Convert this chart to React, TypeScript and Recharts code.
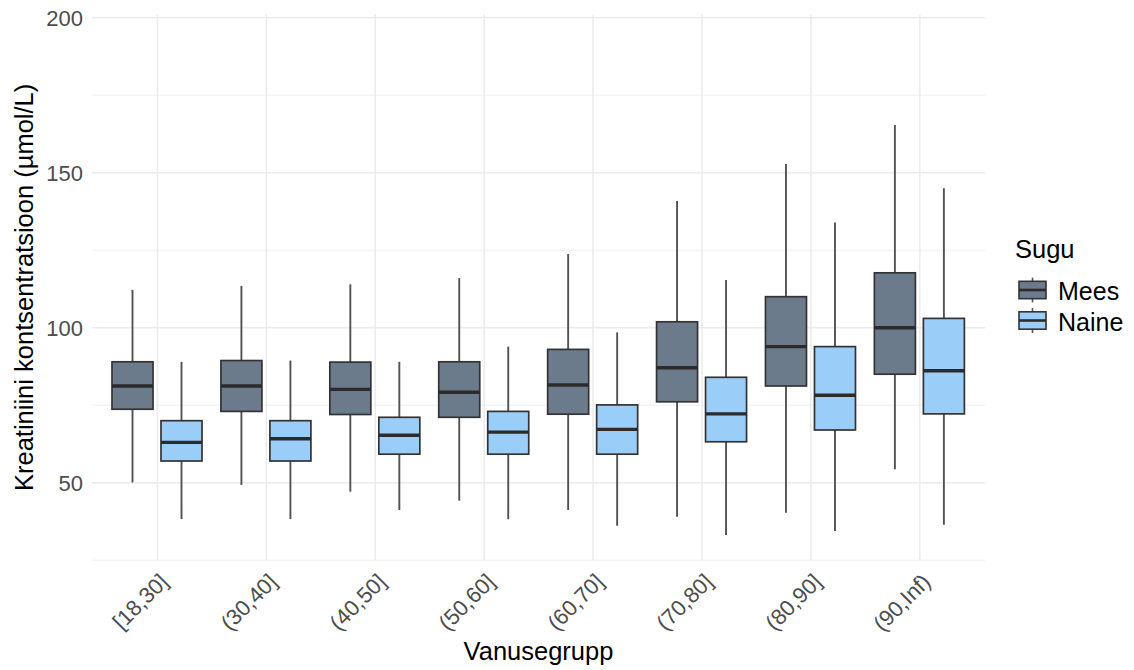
import { ComposedChart, Bar, XAxis, YAxis, CartesianGrid } from 'recharts'

// Age groups and five-number summaries (whisker low, Q1, median, Q3, whisker high)
const ageGroups = ['[18,30]', '(30,40]', '(40,50]', '(50,60]', '(60,70]', '(70,80]', '(80,90]', '(90,Inf)']

const meesLow = [50.1, 49.3, 47.1, 44.2, 41.2, 39.0, 40.3, 54.3]
const meesQ1 = [73.7, 73.0, 72.0, 71.1, 72.1, 76.1, 81.2, 85.0]
const meesMedian = [81.2, 81.2, 80.1, 79.2, 81.5, 87.1, 93.9, 100.0]
const meesQ3 = [89.0, 89.4, 88.9, 89.0, 93.0, 101.9, 110.0, 117.7]
const meesHigh = [112.2, 113.5, 114.0, 116.0, 123.8, 140.9, 152.8, 165.4]

const naineLow = [38.3, 38.3, 41.2, 38.2, 36.1, 33.1, 34.4, 36.4]
const naineQ1 = [57.0, 57.0, 59.2, 59.2, 59.2, 63.2, 67.0, 72.2]
const naineMedian = [63.0, 64.2, 65.3, 66.3, 67.2, 72.2, 78.2, 86.1]
const naineQ3 = [70.0, 70.0, 71.1, 73.0, 75.1, 84.0, 93.9, 103.0]
const naineHigh = [89.0, 89.4, 89.0, 93.9, 98.5, 115.4, 133.9, 145.0]

const yTicks = [50, 100, 150, 200]
const yMinor = [25, 75, 125, 175]

const MEES_FILL = '#6c7b8c'
const NAINE_FILL = '#9acef8'
const FONT = '"Liberation Sans", Arial, Helvetica, sans-serif'

const data = ageGroups.map((group, i) => ({
  group,
  mees: { low: meesLow[i], q1: meesQ1[i], median: meesMedian[i], q3: meesQ3[i], high: meesHigh[i] },
  naine: { low: naineLow[i], q1: naineQ1[i], median: naineMedian[i], q3: naineQ3[i], high: naineHigh[i] },
}))

type Stats = { low: number; q1: number; median: number; q3: number; high: number }

// Bar spans low..high; box parts are placed by interpolating inside that span
function boxShape(key: 'mees' | 'naine', fill: string) {
  return (props: any) => {
    const { x, y, width, height, payload } = props
    const s: Stats = payload[key]
    const py = (v: number) => y + ((s.high - v) / (s.high - s.low)) * height
    const cx = x + width / 2
    return (
      <g>
        <line x1={cx} x2={cx} y1={py(s.high)} y2={py(s.low)} stroke="#525252" strokeWidth={1.9} />
        <rect
          x={x}
          y={py(s.q3)}
          width={width}
          height={py(s.q1) - py(s.q3)}
          fill={fill}
          stroke="#333333"
          strokeWidth={1.7}
        />
        <line x1={x} x2={x + width} y1={py(s.median)} y2={py(s.median)} stroke="#2b2b2b" strokeWidth={3.4} />
      </g>
    )
  }
}

function AgeTick(props: any) {
  const { x, y, payload } = props
  const ax = x + 12
  const ay = y + 15
  return (
    <text
      x={ax}
      y={ay}
      textAnchor="end"
      transform={`rotate(-45, ${ax}, ${ay})`}
      fill="#4d4d4d"
      fontSize={22}
      fontFamily={FONT}
    >
      {payload.value}
    </text>
  )
}

function LegendKey({ top, fill }: { top: number; fill: string }) {
  const left = 1019
  const w = 27
  const h = 31
  const cx = left + w / 2
  return (
    <g>
      <line x1={cx} x2={cx} y1={top + h * 0.1} y2={top + h * 0.9} stroke="#525252" strokeWidth={1.6} />
      <rect x={left} y={top + h * 0.22} width={w} height={h * 0.56} fill={fill} stroke="#333333" strokeWidth={1.6} />
      <line x1={left} x2={left + w} y1={top + h / 2} y2={top + h / 2} stroke="#2b2b2b" strokeWidth={2.6} />
    </g>
  )
}

export default function App() {
  return (
    <div style={{ position: 'absolute', left: 0, top: 0, width: 1134, height: 670, background: '#fff' }}>
      <ComposedChart
        width={1134}
        height={670}
        data={data}
        margin={{ top: 14.6, right: 148.7, bottom: 9.8, left: 0 }}
        barGap={8}
      >
        <CartesianGrid
          horizontalValues={yMinor}
          vertical={false}
          stroke="#efefef"
          strokeWidth={1}
        />
        <CartesianGrid horizontalValues={yTicks} syncWithTicks stroke="#ebebeb" strokeWidth={1.5} />
        <XAxis
          dataKey="group"
          height={100}
          padding={{ left: 11, right: 11 }}
          axisLine={false}
          tickLine={false}
          interval={0}
          tick={<AgeTick />}
        />
        <YAxis
          width={92}
          domain={[25, 201]}
          ticks={yTicks}
          allowDataOverflow
          axisLine={false}
          tickLine={false}
          tickSize={0}
          tickMargin={9}
          tick={{ fill: '#4d4d4d', fontSize: 22, fontFamily: FONT }}
        />
        <Bar
          dataKey={(d: any) => [d.mees.low, d.mees.high]}
          barSize={41}
          shape={boxShape('mees', MEES_FILL)}
          isAnimationActive={false}
        />
        <Bar
          dataKey={(d: any) => [d.naine.low, d.naine.high]}
          barSize={41}
          shape={boxShape('naine', NAINE_FILL)}
          isAnimationActive={false}
        />
      </ComposedChart>

      {/* axis titles and legend */}
      <svg
        width={1134}
        height={670}
        style={{ position: 'absolute', left: 0, top: 0, pointerEvents: 'none' }}
      >
        <text
          x={33}
          y={287.4}
          transform="rotate(-90, 33, 287.4)"
          textAnchor="middle"
          fontSize={25.5}
          fontFamily={FONT}
          fill="#000"
        >
          Kreatiniini kontsentratsioon (µmol/L)
        </text>
        <text x={538.5} y={660} textAnchor="middle" fontSize={25.5} fontFamily={FONT} fill="#000">
          Vanusegrupp
        </text>
        <text x={1015} y={258} fontSize={25.5} fontFamily={FONT} fill="#000">
          Sugu
        </text>
        <LegendKey top={274.5} fill={MEES_FILL} />
        <LegendKey top={305} fill={NAINE_FILL} />
        <text x={1058} y={300} fontSize={25} fontFamily={FONT} fill="#000">
          Mees
        </text>
        <text x={1058} y={330.5} fontSize={25} fontFamily={FONT} fill="#000">
          Naine
        </text>
      </svg>
    </div>
  )
}
